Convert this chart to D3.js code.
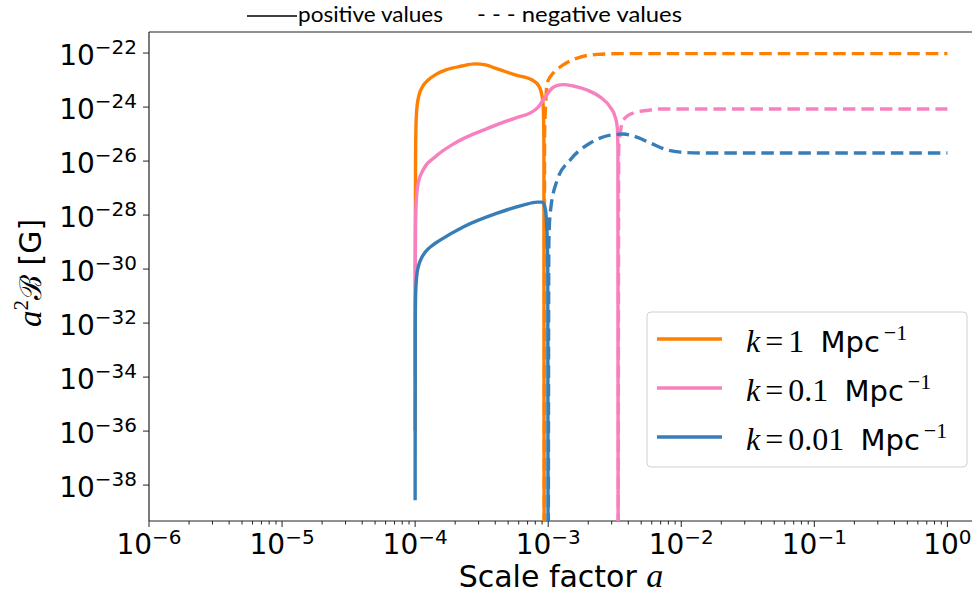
<!DOCTYPE html>
<html>
<head>
<meta charset="utf-8">
<script src="https://cdn.jsdelivr.net/npm/d3@7"></script>
<style>
  html, body { margin: 0; padding: 0; background: #fff; }
  svg { display: block; }
</style>
</head>
<body>
<svg id="chart" width="972" height="595"></svg>
<script>
// Curves are stored as [log10(a), log10(a^2 B / G)] pairs.
// Solid = positive branch, dashed = magnitude of negative branch.
const orangePos = [[-4.0,-36],[-3.999,-30],[-3.997,-26],[-3.993,-24.6],[-3.985,-23.95],[-3.970,-23.55],
  [-3.945,-23.25],[-3.902,-23.0],[-3.84,-22.78],[-3.774,-22.63],[-3.65,-22.48],[-3.549,-22.40],[-3.47,-22.44],
  [-3.398,-22.56],[-3.248,-22.81],[-3.120,-23.0],[-3.075,-23.19],[-3.055,-23.4],[-3.045,-23.63],
  [-3.037,-24.0],[-3.032,-25.5],[-3.030,-45]];
const orangeNeg = [[-3.030,-45],[-3.027,-25],[-3.018,-23.8],[-3.008,-23.11],[-2.962,-22.74],[-2.887,-22.44],
  [-2.759,-22.15],[-2.632,-22.05],[-2.459,-22.02],[0,-22.02]];

const pinkPos = [[-4.0,-34],[-3.999,-30],[-3.997,-28.3],[-3.993,-27.6],[-3.977,-26.81],[-3.940,-26.33],
  [-3.850,-25.85],[-3.699,-25.33],[-3.451,-24.78],[-3.226,-24.37],[-3.135,-24.22],[-3.075,-24.0],
  [-3.023,-23.63],[-2.970,-23.30],[-2.930,-23.2],[-2.887,-23.17],[-2.812,-23.22],[-2.707,-23.37],
  [-2.609,-23.63],[-2.534,-24.0],[-2.496,-24.37],[-2.481,-24.74],[-2.476,-25.5],[-2.474,-45]];
const pinkNeg = [[-2.474,-45],[-2.470,-25.5],[-2.455,-24.85],[-2.436,-24.48],[-2.361,-24.22],
  [-2.233,-24.11],[-2.158,-24.07],[0,-24.07]];

const bluePos = [[-4.0,-38.56],[-3.999,-32],[-3.996,-30.9],[-3.988,-30.25],[-3.977,-29.93],[-3.955,-29.62],
  [-3.925,-29.38],[-3.870,-29.12],[-3.812,-28.93],[-3.639,-28.44],[-3.383,-27.93],[-3.188,-27.63],
  [-3.083,-27.52],[-3.045,-27.52],[-3.023,-27.74],[-3.010,-28.5],[-3.003,-30],[-3.0,-45]];
const blueNeg = [[-3.0,-45],[-2.995,-29],[-2.985,-27.93],[-2.932,-26.70],[-2.835,-25.96],[-2.684,-25.33],
  [-2.534,-25.04],[-2.436,-25.0],[-2.361,-25.07],[-2.233,-25.33],[-2.105,-25.59],[-2.008,-25.67],
  [-1.857,-25.70],[0,-25.70]];

const seriesNames = ["1", "0.1", "0.01"];
const seriesColors = ["#ff7f00", "#f781bf", "#377eb8"];
const seriesData = [[orangePos, orangeNeg], [pinkPos, pinkNeg], [bluePos, blueNeg]];

const xTickExponents = [-6, -5, -4, -3, -2, -1, 0];
const yTickExponents = [-22, -24, -26, -28, -30, -32, -34, -36, -38];

const M = { left: 149, top: 32, right: 974, bottom: 521 };
const svg = d3.select("#chart");

const x = d3.scaleLog().domain([1e-6, Math.pow(10, 0.2)]).range([M.left, M.right]);
const y = d3.scaleLog().domain([Math.pow(10, -39.33), Math.pow(10, -21.22)]).range([M.bottom, M.top]);

svg.append("defs").append("clipPath").attr("id", "plotClip")
  .append("rect").attr("x", M.left).attr("y", M.top)
  .attr("width", M.right - M.left).attr("height", M.bottom - M.top);

// spines
const spine = svg.append("g").attr("stroke", "#222").attr("stroke-width", 1.2).attr("fill", "none");
spine.append("line").attr("x1", M.left).attr("x2", M.left).attr("y1", M.top).attr("y2", M.bottom);
spine.append("line").attr("x1", M.left).attr("x2", M.right).attr("y1", M.bottom).attr("y2", M.bottom);
spine.append("line").attr("x1", M.left).attr("x2", M.right).attr("y1", M.top).attr("y2", M.top);

// x ticks: major per decade, minor 2..9
const tickG = svg.append("g").attr("stroke", "#222").attr("stroke-width", 1);
xTickExponents.forEach(e => {
  const px = x(Math.pow(10, e));
  tickG.append("line").attr("x1", px).attr("x2", px).attr("y1", M.bottom).attr("y2", M.bottom + 6);
  for (let m = 2; m <= 9; m++) {
    const v = m * Math.pow(10, e);
    if (v > x.domain()[1]) continue;
    const mx = x(v);
    tickG.append("line").attr("x1", mx).attr("x2", mx).attr("y1", M.bottom).attr("y2", M.bottom + 3.5);
  }
});
yTickExponents.forEach(e => {
  const py = y(Math.pow(10, e));
  tickG.append("line").attr("x1", M.left - 6).attr("x2", M.left).attr("y1", py).attr("y2", py);
});

const tickFont = "DejaVu Sans";
xTickExponents.forEach(e => {
  const t = svg.append("text").attr("x", x(Math.pow(10, e))).attr("y", 554)
    .attr("text-anchor", "middle").attr("font-family", tickFont).attr("fill", "#000");
  t.append("tspan").attr("font-size", 28).text("10");
  t.append("tspan").attr("font-size", 20).attr("dy", -10).text((e < 0 ? "\u2212" : "") + Math.abs(e));
});
yTickExponents.forEach(e => {
  const py = y(Math.pow(10, e));
  const t = svg.append("text").attr("x", 137).attr("y", py + 12)
    .attr("text-anchor", "end").attr("font-family", tickFont).attr("fill", "#000");
  t.append("tspan").attr("font-size", 28).text("10");
  t.append("tspan").attr("font-size", 20).attr("dy", -11).text("\u2212" + Math.abs(e));
});

// axis labels
const xl = svg.append("text").attr("x", 561).attr("y", 587).attr("text-anchor", "middle").attr("fill", "#000");
xl.append("tspan").attr("font-family", "DejaVu Sans").attr("font-size", 30).text("Scale factor ");
xl.append("tspan").attr("font-family", "Liberation Serif").attr("font-style", "italic").attr("font-size", 34).text("a");

const yl = svg.append("text").attr("transform", "translate(41,273) rotate(-90)")
  .attr("text-anchor", "middle").attr("fill", "#000");
yl.append("tspan").attr("font-family", "Liberation Serif").attr("font-style", "italic").attr("font-size", 33).text("a");
yl.append("tspan").attr("font-family", "Liberation Serif").attr("font-size", 21).attr("dy", -13).text("2");
yl.append("tspan").attr("font-family", "DejaVu Serif").attr("font-size", 30).attr("dy", 13).text("\u212C");
yl.append("tspan").attr("font-family", "DejaVu Sans").attr("font-size", 30).text(" [G]");

// curves
const line = d3.line()
  .x(d => x(Math.pow(10, d[0])))
  .y(d => y(Math.pow(10, d[1])))
  .curve(d3.curveMonotoneX);

const plot = svg.append("g").attr("clip-path", "url(#plotClip)");
seriesData.forEach((pair, i) => {
  plot.append("path").datum(pair[0]).attr("d", line)
    .attr("fill", "none").attr("stroke", seriesColors[i]).attr("stroke-width", 3.4)
    .attr("stroke-linejoin", "round");
  plot.append("path").datum(pair[1]).attr("d", line)
    .attr("fill", "none").attr("stroke", seriesColors[i]).attr("stroke-width", 3.4)
    .attr("stroke-dasharray", "12.5,6");
});

// series legend
const lg = svg.append("g");
lg.append("rect").attr("x", 647).attr("y", 312).attr("width", 320).attr("height", 155)
  .attr("rx", 4).attr("fill", "#fff").attr("fill-opacity", 0.8)
  .attr("stroke", "#d0d0d0").attr("stroke-width", 1);
seriesNames.forEach((name, i) => {
  const ly = 339 + i * 49;
  lg.append("line").attr("x1", 657).attr("x2", 722).attr("y1", ly).attr("y2", ly)
    .attr("stroke", seriesColors[i]).attr("stroke-width", 3.4);
  const t = lg.append("text").attr("x", 746).attr("y", ly + 13).attr("fill", "#000");
  t.append("tspan").attr("font-family", "Liberation Serif").attr("font-style", "italic").attr("font-size", 32).text("k");
  t.append("tspan").attr("font-family", "Liberation Serif").attr("font-size", 32).attr("dx", 5).text("=");
  t.append("tspan").attr("font-family", "Liberation Serif").attr("font-size", 32).attr("dx", 5).text(name);
  t.append("tspan").attr("font-family", "DejaVu Sans").attr("font-size", 29).attr("dx", 7).text(" Mpc");
  t.append("tspan").attr("font-family", "Liberation Serif").attr("font-size", 22).attr("dx", 4).attr("dy", -12).text("\u22121");
});

// line-style key above the axes
const key = svg.append("g");
key.append("line").attr("x1", 247).attr("x2", 297).attr("y1", 16).attr("y2", 16)
  .attr("stroke", "#000").attr("stroke-width", 1.4);
key.append("text").attr("x", 298).attr("y", 22).attr("font-family", "Lato").attr("font-size", 22)
  .attr("textLength", 145).attr("lengthAdjust", "spacingAndGlyphs").attr("fill", "#000").text("positive values");
key.append("text").attr("x", 477).attr("y", 22).attr("font-family", "Lato").attr("font-size", 22)
  .attr("textLength", 205).attr("lengthAdjust", "spacingAndGlyphs").attr("fill", "#000").text("- - - negative values");
</script>
</body>
</html>
